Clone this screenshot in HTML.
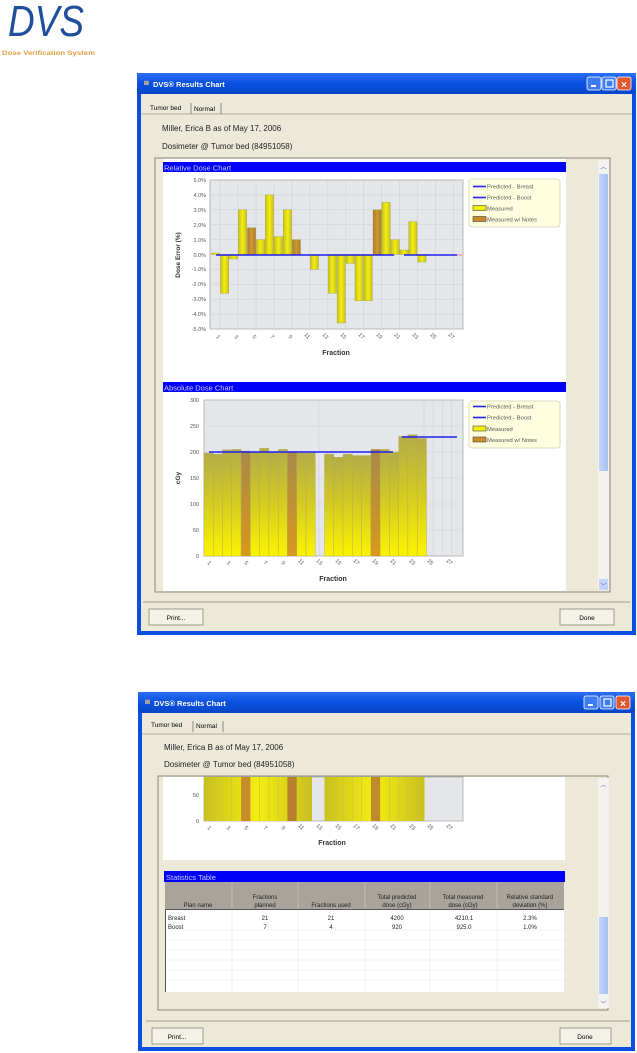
<!DOCTYPE html>
<html><head><meta charset="utf-8"><style>
html,body{margin:0;padding:0;background:#fff;}
svg{display:block;font-family:"Liberation Sans",sans-serif;}
</style></head><body>
<svg width="637" height="1053" viewBox="0 0 637 1053" xmlns="http://www.w3.org/2000/svg">
<defs>
<linearGradient id="ya" x1="0" y1="0" x2="0" y2="1"><stop offset="0" stop-color="#b4ac48"/><stop offset="0.5" stop-color="#d4cc20"/><stop offset="1" stop-color="#fcf400"/></linearGradient>
<linearGradient id="ba" x1="0" y1="0" x2="0" y2="1"><stop offset="0" stop-color="#a88a48"/><stop offset="1" stop-color="#d8981c"/></linearGradient>
<linearGradient id="yh" x1="0" y1="0" x2="1" y2="0"><stop offset="0" stop-color="#c8c020"/><stop offset="0.5" stop-color="#f4ee10"/><stop offset="1" stop-color="#c8c020"/></linearGradient>
<linearGradient id="bh" x1="0" y1="0" x2="1" y2="0"><stop offset="0" stop-color="#a87c30"/><stop offset="0.5" stop-color="#d09830"/><stop offset="1" stop-color="#a87c30"/></linearGradient>
<linearGradient id="tb" x1="0" y1="0" x2="0" y2="1"><stop offset="0" stop-color="#2a6ef0"/><stop offset="0.5" stop-color="#0a50e0"/><stop offset="1" stop-color="#0846c8"/></linearGradient>
<linearGradient id="sb" x1="0" y1="0" x2="1" y2="0"><stop offset="0" stop-color="#c4d4f8"/><stop offset="1" stop-color="#a8c0f0"/></linearGradient>
</defs>

<!-- Logo -->
<text x="8" y="36" font-size="44" fill="#1e4e9c" font-family="Liberation Sans" font-style="italic" textLength="76" lengthAdjust="spacingAndGlyphs">DVS</text>
<text x="2" y="55" font-size="6" fill="#e0a040" font-weight="bold" textLength="93" lengthAdjust="spacingAndGlyphs">Dose Verification System</text>

<!-- ============ WINDOW 1 ============ -->
<rect x="137" y="73" width="499" height="562" fill="#0a50e0"/>
<rect x="137" y="73" width="499" height="21" fill="url(#tb)"/>
<rect x="141" y="94" width="491" height="537" fill="#ece9d8"/>
<text x="144" y="87" font-size="7" fill="#a0a0a0">▀</text>
<text x="153" y="87" font-size="7.5" font-weight="bold" fill="#fff">DVS® Results Chart</text>
<rect x="587" y="77" width="14" height="13" rx="2" fill="#3c7cf0" stroke="#fff" stroke-width="0.8"/>
<rect x="602" y="77" width="14" height="13" rx="2" fill="#3c7cf0" stroke="#fff" stroke-width="0.8"/>
<rect x="617" y="77" width="14" height="13" rx="2" fill="#e05830" stroke="#fff" stroke-width="0.8"/>
<text x="624" y="88" font-size="10" fill="#fff" text-anchor="middle" font-weight="bold">×</text>
<rect x="591" y="85" width="5" height="2" fill="#fff"/>
<rect x="606" y="80" width="7" height="7" fill="none" stroke="#fff" stroke-width="1.2"/>
<!-- tabs -->
<line x1="141" y1="114" x2="632" y2="114" stroke="#b0ad98"/>
<text x="150" y="110" font-size="6.5" fill="#000">Tumor bed</text>
<line x1="191" y1="103" x2="191" y2="114" stroke="#888"/>
<text x="194" y="111" font-size="6.5" fill="#000">Normal</text>
<line x1="221" y1="103" x2="221" y2="114" stroke="#888"/>
<text x="162" y="131" font-size="8" fill="#222">Miller, Erica B as of May 17, 2006</text>
<text x="162" y="149" font-size="8" fill="#222">Dosimeter @ Tumor bed (84951058)</text>
<!-- panel -->
<rect x="155" y="158" width="455" height="434" fill="#ece9d8" stroke="#8a8878"/>
<rect x="163" y="159" width="403" height="432" fill="#fff"/>
<rect x="598" y="160" width="11" height="431" fill="#f2f2ee"/>
<rect x="599" y="174" width="9" height="297" fill="url(#sb)"/>
<text x="603.5" y="169" font-size="6" fill="#4060a0" text-anchor="middle">︿</text>
<rect x="599" y="579" width="9" height="11" fill="#c4d4f8"/>
<text x="603.5" y="588" font-size="6" fill="#4060a0" text-anchor="middle">﹀</text>

<!-- Relative chart -->
<rect x="163" y="162" width="403" height="10" fill="#0000f8"/>
<text x="164" y="170.5" font-size="7.5" fill="#c8d0ff">Relative Dose Chart</text>
<rect x="210" y="180" width="253" height="149" fill="#e4e6ea" stroke="#b8b8b8"/>
<g stroke="#d0d2d8" stroke-width="0.6">
<line x1="210" y1="194.9" x2="463" y2="194.9"/><line x1="210" y1="209.8" x2="463" y2="209.8"/><line x1="210" y1="224.7" x2="463" y2="224.7"/><line x1="210" y1="239.6" x2="463" y2="239.6"/><line x1="210" y1="269.4" x2="463" y2="269.4"/><line x1="210" y1="284.3" x2="463" y2="284.3"/><line x1="210" y1="299.2" x2="463" y2="299.2"/><line x1="210" y1="314.1" x2="463" y2="314.1"/>
<line x1="220.2" y1="180" x2="220.2" y2="329"/><line x1="238.1" y1="180" x2="238.1" y2="329"/><line x1="256.1" y1="180" x2="256.1" y2="329"/><line x1="274" y1="180" x2="274" y2="329"/><line x1="292" y1="180" x2="292" y2="329"/><line x1="309.9" y1="180" x2="309.9" y2="329"/><line x1="327.8" y1="180" x2="327.8" y2="329"/><line x1="345.8" y1="180" x2="345.8" y2="329"/><line x1="363.7" y1="180" x2="363.7" y2="329"/><line x1="381.6" y1="180" x2="381.6" y2="329"/><line x1="399.6" y1="180" x2="399.6" y2="329"/><line x1="417.5" y1="180" x2="417.5" y2="329"/><line x1="435.5" y1="180" x2="435.5" y2="329"/><line x1="453.4" y1="180" x2="453.4" y2="329"/>
</g>
<g stroke="#a0a040" stroke-width="0.4">
<rect x="211.5" y="253" width="8.3" height="1.5" fill="url(#yh)"/>
<rect x="220.5" y="254.5" width="8.3" height="38.7" fill="url(#yh)"/>
<rect x="229.4" y="254.5" width="8.3" height="4.5" fill="url(#yh)"/>
<rect x="238.4" y="209.8" width="8.3" height="44.7" fill="url(#yh)"/>
<rect x="247.4" y="227.7" width="8.3" height="26.8" fill="url(#bh)"/>
<rect x="256.4" y="239.6" width="8.3" height="14.9" fill="url(#yh)"/>
<rect x="265.3" y="194.9" width="8.3" height="59.6" fill="url(#yh)"/>
<rect x="274.3" y="236.6" width="8.3" height="17.9" fill="url(#yh)"/>
<rect x="283.3" y="209.8" width="8.3" height="44.7" fill="url(#yh)"/>
<rect x="292.2" y="239.6" width="8.3" height="14.9" fill="url(#bh)"/>
<rect x="310.2" y="254.5" width="8.3" height="14.9" fill="url(#yh)"/>
<rect x="328.1" y="254.5" width="8.3" height="38.7" fill="url(#yh)"/>
<rect x="337.1" y="254.5" width="8.3" height="68.5" fill="url(#yh)"/>
<rect x="346.1" y="254.5" width="8.3" height="8.9" fill="url(#yh)"/>
<rect x="355" y="254.5" width="8.3" height="46.2" fill="url(#yh)"/>
<rect x="364" y="254.5" width="8.3" height="46.2" fill="url(#yh)"/>
<rect x="373" y="209.8" width="8.3" height="44.7" fill="url(#bh)"/>
<rect x="381.9" y="202.4" width="8.3" height="52.1" fill="url(#yh)"/>
<rect x="390.9" y="239.6" width="8.3" height="14.9" fill="url(#yh)"/>
<rect x="399.9" y="250" width="8.3" height="4.5" fill="url(#yh)"/>
<rect x="408.8" y="221.7" width="8.3" height="32.8" fill="url(#yh)"/>
<rect x="417.8" y="254.5" width="8.3" height="7.5" fill="url(#yh)"/>
</g>
<line x1="216" y1="255" x2="394" y2="255" stroke="#2020f0" stroke-width="1.5"/>
<line x1="404" y1="255" x2="457" y2="255" stroke="#2020f0" stroke-width="1.5"/>
<line x1="457" y1="255" x2="462" y2="255" stroke="#f08080" stroke-width="1"/>
<g font-size="5.5" fill="#555" text-anchor="end">
<text x="206" y="182">5.0%</text><text x="206" y="197">4.0%</text><text x="206" y="212">3.0%</text><text x="206" y="227">2.0%</text><text x="206" y="242">1.0%</text><text x="206" y="257">0.0%</text><text x="206" y="271">-1.0%</text><text x="206" y="286">-2.0%</text><text x="206" y="301">-3.0%</text><text x="206" y="316">-4.0%</text><text x="206" y="331">-5.0%</text>
</g>
<g font-size="5.5" fill="#555">
<text transform="translate(216,337) rotate(45)">1</text><text transform="translate(234,337) rotate(45)">3</text><text transform="translate(252,337) rotate(45)">5</text><text transform="translate(270,337) rotate(45)">7</text><text transform="translate(288,337) rotate(45)">9</text><text transform="translate(304,335) rotate(45)">11</text><text transform="translate(322,335) rotate(45)">13</text><text transform="translate(340,335) rotate(45)">15</text><text transform="translate(358,335) rotate(45)">17</text><text transform="translate(376,335) rotate(45)">19</text><text transform="translate(394,335) rotate(45)">21</text><text transform="translate(412,335) rotate(45)">23</text><text transform="translate(430,335) rotate(45)">25</text><text transform="translate(448,335) rotate(45)">27</text>
</g>
<text x="336" y="355" font-size="7" font-weight="bold" fill="#333" text-anchor="middle">Fraction</text>
<text transform="translate(180,255) rotate(-90)" font-size="6.5" font-weight="bold" fill="#333" text-anchor="middle">Dose Error (%)</text>
<rect x="469" y="179" width="91" height="48" rx="3" fill="#ffffe0" stroke="#d8d8c0"/>
<g font-size="5.8" fill="#555">
<line x1="473" y1="186.5" x2="486" y2="186.5" stroke="#2020f0" stroke-width="1.6"/><text x="487" y="188.5">Predicted - Breast</text>
<line x1="473" y1="197.5" x2="486" y2="197.5" stroke="#2020f0" stroke-width="1.6"/><text x="487" y="199.5">Predicted - Boost</text>
<rect x="473" y="205.5" width="13" height="5" fill="#f4f000" stroke="#444" stroke-width="0.6"/><text x="487" y="210.5">Measured</text>
<rect x="473" y="216.5" width="13" height="5" fill="#c88c28" stroke="#444" stroke-width="0.6"/><text x="487" y="221.5">Measured w/ Notes</text>
</g>

<!-- Absolute chart -->
<rect x="163" y="382" width="403" height="10" fill="#0000f8"/>
<text x="164" y="390.5" font-size="7.5" fill="#c8d0ff">Absolute Dose Chart</text>
<rect x="204" y="400" width="259" height="156" fill="#e4e6ea" stroke="#b8b8b8"/>
<g stroke="#d0d2d8" stroke-width="0.6">
<line x1="204" y1="426" x2="463" y2="426"/><line x1="204" y1="452" x2="463" y2="452"/><line x1="204" y1="478" x2="463" y2="478"/><line x1="204" y1="504" x2="463" y2="504"/><line x1="204" y1="530" x2="463" y2="530"/>
<line x1="433" y1="400" x2="433" y2="556"/><line x1="442.3" y1="400" x2="442.3" y2="556"/><line x1="451.5" y1="400" x2="451.5" y2="556"/><line x1="424" y1="400" x2="424" y2="556"/><line x1="319" y1="400" x2="319" y2="556"/>
</g>
<g stroke="#b0a858" stroke-width="0.4">
<rect x="204" y="453" width="9.27" height="103" fill="url(#ya)"/>
<rect x="213.3" y="454.1" width="9.27" height="101.9" fill="url(#ya)"/>
<rect x="222.5" y="449.9" width="9.27" height="106.1" fill="url(#ya)"/>
<rect x="231.8" y="449.4" width="9.27" height="106.6" fill="url(#ya)"/>
<rect x="241.1" y="451" width="9.27" height="105" fill="url(#ba)"/>
<rect x="250.4" y="452" width="9.27" height="104" fill="url(#ya)"/>
<rect x="259.6" y="448.4" width="9.27" height="107.6" fill="url(#ya)"/>
<rect x="268.9" y="452" width="9.27" height="104" fill="url(#ya)"/>
<rect x="278.2" y="449.4" width="9.27" height="106.6" fill="url(#ya)"/>
<rect x="287.4" y="451.5" width="9.27" height="104.5" fill="url(#ba)"/>
<rect x="296.7" y="453" width="9.27" height="103" fill="url(#ya)"/>
<rect x="306" y="453" width="9.27" height="103" fill="url(#ya)"/>
<rect x="324.5" y="454.1" width="9.27" height="101.9" fill="url(#ya)"/>
<rect x="333.8" y="457.2" width="9.27" height="98.8" fill="url(#ya)"/>
<rect x="343" y="454.1" width="9.27" height="101.9" fill="url(#ya)"/>
<rect x="352.3" y="455.6" width="9.27" height="100.4" fill="url(#ya)"/>
<rect x="361.6" y="455.6" width="9.27" height="100.4" fill="url(#ya)"/>
<rect x="370.9" y="449.4" width="9.27" height="106.6" fill="url(#ba)"/>
<rect x="380.1" y="449.4" width="9.27" height="106.6" fill="url(#ya)"/>
<rect x="389.4" y="452" width="9.27" height="104" fill="url(#ya)"/>
<rect x="398.7" y="436.4" width="9.27" height="119.6" fill="url(#ya)"/>
<rect x="407.9" y="434.8" width="9.27" height="121.2" fill="url(#ya)"/>
<rect x="417.2" y="438.5" width="9.27" height="117.5" fill="url(#ya)"/>
</g>
<line x1="209" y1="452" x2="393" y2="452" stroke="#2020f0" stroke-width="1.5"/>
<line x1="402" y1="437" x2="457" y2="437" stroke="#2020f0" stroke-width="1.5"/>
<g font-size="5.5" fill="#555" text-anchor="end">
<text x="199" y="402">300</text><text x="199" y="428">250</text><text x="199" y="454">200</text><text x="199" y="480">150</text><text x="199" y="506">100</text><text x="199" y="532">50</text><text x="199" y="558">0</text>
</g>
<g font-size="5.5" fill="#555">
<text transform="translate(207,563) rotate(45)">1</text><text transform="translate(226,563) rotate(45)">3</text><text transform="translate(244,563) rotate(45)">5</text><text transform="translate(263,563) rotate(45)">7</text><text transform="translate(281,563) rotate(45)">9</text><text transform="translate(298,561) rotate(45)">11</text><text transform="translate(316,561) rotate(45)">13</text><text transform="translate(335,561) rotate(45)">15</text><text transform="translate(353,561) rotate(45)">17</text><text transform="translate(372,561) rotate(45)">19</text><text transform="translate(390,561) rotate(45)">21</text><text transform="translate(409,561) rotate(45)">23</text><text transform="translate(427,561) rotate(45)">25</text><text transform="translate(446,561) rotate(45)">27</text>
</g>
<text x="333" y="581" font-size="7" font-weight="bold" fill="#333" text-anchor="middle">Fraction</text>
<text transform="translate(180,478) rotate(-90)" font-size="6.5" font-weight="bold" fill="#333" text-anchor="middle">cGy</text>
<rect x="469" y="401" width="91" height="47" rx="3" fill="#ffffe0" stroke="#d8d8c0"/>
<g font-size="5.8" fill="#555">
<line x1="473" y1="406.5" x2="486" y2="406.5" stroke="#2020f0" stroke-width="1.6"/><text x="487" y="408.5">Predicted - Breast</text>
<line x1="473" y1="417.5" x2="486" y2="417.5" stroke="#2020f0" stroke-width="1.6"/><text x="487" y="419.5">Predicted - Boost</text>
<rect x="473" y="426" width="13" height="5" fill="#f4f000" stroke="#444" stroke-width="0.6"/><text x="487" y="431">Measured</text>
<rect x="473" y="437" width="13" height="5" fill="#c88c28" stroke="#444" stroke-width="0.6"/><text x="487" y="442">Measured w/ Notes</text>
</g>
<!-- footer -->
<line x1="143" y1="602" x2="630" y2="602" stroke="#b0ad98" stroke-width="1.2"/>
<rect x="149" y="609" width="54" height="16" fill="#f4f2e8" stroke="#8a8878" stroke-width="0.8"/>
<text x="176" y="620" font-size="6.5" text-anchor="middle" fill="#000">Print...</text>
<rect x="560" y="609" width="54" height="16" fill="#f4f2e8" stroke="#8a8878" stroke-width="0.8"/>
<text x="587" y="620" font-size="6.5" text-anchor="middle" fill="#000">Done</text>

<!-- ============ WINDOW 2 ============ -->
<rect x="138" y="692" width="497" height="359" fill="#0a50e0"/>
<rect x="138" y="692" width="497" height="21" fill="url(#tb)"/>
<rect x="142" y="713" width="489" height="334" fill="#ece9d8"/>
<text x="145" y="706" font-size="7" fill="#a0a0a0">▀</text>
<text x="154" y="706" font-size="7.5" font-weight="bold" fill="#fff">DVS® Results Chart</text>
<rect x="584" y="696" width="14" height="13" rx="2" fill="#3c7cf0" stroke="#fff" stroke-width="0.8"/>
<rect x="600" y="696" width="14" height="13" rx="2" fill="#3c7cf0" stroke="#fff" stroke-width="0.8"/>
<rect x="616" y="696" width="14" height="13" rx="2" fill="#e05830" stroke="#fff" stroke-width="0.8"/>
<text x="623" y="707" font-size="10" fill="#fff" text-anchor="middle" font-weight="bold">×</text>
<rect x="588" y="704" width="5" height="2" fill="#fff"/>
<rect x="604" y="699" width="7" height="7" fill="none" stroke="#fff" stroke-width="1.2"/>
<line x1="142" y1="734" x2="631" y2="734" stroke="#b0ad98"/>
<text x="151" y="727" font-size="6.5" fill="#000">Tumor bed</text>
<line x1="193" y1="721" x2="193" y2="732" stroke="#888"/>
<text x="196" y="728" font-size="6.5" fill="#000">Normal</text>
<line x1="223" y1="721" x2="223" y2="732" stroke="#888"/>
<text x="164" y="750" font-size="8" fill="#222">Miller, Erica B as of May 17, 2006</text>
<text x="164" y="767" font-size="8" fill="#222">Dosimeter @ Tumor bed (84951058)</text>
<rect x="158" y="776" width="450" height="234" fill="#ece9d8" stroke="#8a8878"/>
<rect x="163" y="777" width="402" height="83" fill="#fff"/>
<rect x="598" y="778" width="11" height="230" fill="#f2f2ee"/>
<rect x="599" y="917" width="9" height="77" fill="url(#sb)"/>
<text x="603.5" y="787" font-size="6" fill="#4060a0" text-anchor="middle">︿</text>
<text x="603.5" y="1006" font-size="6" fill="#4060a0" text-anchor="middle">﹀</text>
<rect x="204" y="777" width="259" height="44" fill="#e4e6ea" stroke="#b8b8b8"/>
<g>
<rect x="204" y="777" width="108" height="44" fill="url(#yh)"/>
<rect x="241.1" y="777" width="9.27" height="44" fill="#c88c28"/>
<rect x="287.4" y="777" width="9.27" height="44" fill="#b8802c"/>
<rect x="324.5" y="777" width="100" height="44" fill="url(#yh)"/>
<rect x="370.9" y="777" width="9.27" height="44" fill="#c08a28"/>
</g>
<g stroke="#c8c040" stroke-width="0.6">
<line x1="213.3" y1="777" x2="213.3" y2="821"/><line x1="222.5" y1="777" x2="222.5" y2="821"/><line x1="231.8" y1="777" x2="231.8" y2="821"/><line x1="259.6" y1="777" x2="259.6" y2="821"/><line x1="268.9" y1="777" x2="268.9" y2="821"/><line x1="278.2" y1="777" x2="278.2" y2="821"/><line x1="306" y1="777" x2="306" y2="821"/><line x1="333.8" y1="777" x2="333.8" y2="821"/><line x1="343" y1="777" x2="343" y2="821"/><line x1="352.3" y1="777" x2="352.3" y2="821"/><line x1="361.6" y1="777" x2="361.6" y2="821"/><line x1="389.4" y1="777" x2="389.4" y2="821"/><line x1="398.7" y1="777" x2="398.7" y2="821"/><line x1="407.9" y1="777" x2="407.9" y2="821"/><line x1="417.2" y1="777" x2="417.2" y2="821"/>
</g>
<g font-size="5.5" fill="#555" text-anchor="end"><text x="199" y="797">50</text><text x="199" y="823">0</text></g>
<g font-size="5.5" fill="#555">
<text transform="translate(207,828) rotate(45)">1</text><text transform="translate(226,828) rotate(45)">3</text><text transform="translate(244,828) rotate(45)">5</text><text transform="translate(263,828) rotate(45)">7</text><text transform="translate(281,828) rotate(45)">9</text><text transform="translate(298,826) rotate(45)">11</text><text transform="translate(316,826) rotate(45)">13</text><text transform="translate(335,826) rotate(45)">15</text><text transform="translate(353,826) rotate(45)">17</text><text transform="translate(372,826) rotate(45)">19</text><text transform="translate(390,826) rotate(45)">21</text><text transform="translate(409,826) rotate(45)">23</text><text transform="translate(427,826) rotate(45)">25</text><text transform="translate(446,826) rotate(45)">27</text>
</g>
<text x="332" y="845" font-size="7" font-weight="bold" fill="#333" text-anchor="middle">Fraction</text>
<!-- statistics table -->
<rect x="164" y="871" width="401" height="11" fill="#0000f8"/>
<text x="166" y="880" font-size="7.5" fill="#c8d0ff">Statistics Table</text>
<rect x="165" y="882" width="399" height="110" fill="#fff"/>
<rect x="165" y="882" width="399" height="27" fill="#a8a49c"/>
<g stroke="#e8e8e0" stroke-width="0.6">
<line x1="165" y1="930" x2="564" y2="930"/><line x1="165" y1="940" x2="564" y2="940"/><line x1="165" y1="950" x2="564" y2="950"/><line x1="165" y1="960" x2="564" y2="960"/><line x1="165" y1="970" x2="564" y2="970"/><line x1="165" y1="980" x2="564" y2="980"/>
<line x1="232" y1="909" x2="232" y2="992"/><line x1="298" y1="909" x2="298" y2="992"/><line x1="365" y1="909" x2="365" y2="992"/><line x1="430" y1="909" x2="430" y2="992"/><line x1="497" y1="909" x2="497" y2="992"/>
</g>
<g stroke="#c8c4bc" stroke-width="0.8"><line x1="232" y1="882" x2="232" y2="909"/><line x1="298" y1="882" x2="298" y2="909"/><line x1="365" y1="882" x2="365" y2="909"/><line x1="430" y1="882" x2="430" y2="909"/><line x1="497" y1="882" x2="497" y2="909"/></g>
<line x1="165.5" y1="909" x2="165.5" y2="992" stroke="#555"/>
<line x1="165" y1="909.5" x2="564" y2="909.5" stroke="#555"/>
<g font-size="6" fill="#222" text-anchor="middle">
<text x="198" y="907">Plan name</text>
<text x="265" y="899">Fractions</text><text x="265" y="907">planned</text>
<text x="331" y="907">Fractions used</text>
<text x="397" y="899">Total predicted</text><text x="397" y="907">dose (cGy)</text>
<text x="463" y="899">Total measured</text><text x="463" y="907">dose (cGy)</text>
<text x="530" y="899">Relative standard</text><text x="530" y="907">deviation (%)</text>
</g>
<g font-size="6" fill="#222">
<text x="168" y="920">Breast</text><text x="168" y="929">Boost</text>
</g>
<g font-size="6" fill="#222" text-anchor="middle">
<text x="265" y="920">21</text><text x="331" y="920">21</text><text x="397" y="920">4200</text><text x="464" y="920">4210.1</text><text x="530" y="920">2.3%</text>
<text x="265" y="929">7</text><text x="331" y="929">4</text><text x="397" y="929">920</text><text x="464" y="929">925.0</text><text x="530" y="929">1.0%</text>
</g>
<line x1="146" y1="1021" x2="630" y2="1021" stroke="#b0ad98" stroke-width="1.2"/>
<rect x="152" y="1028" width="51" height="16" fill="#f4f2e8" stroke="#8a8878" stroke-width="0.8"/>
<text x="177" y="1039" font-size="6.5" text-anchor="middle" fill="#000">Print...</text>
<rect x="560" y="1028" width="51" height="16" fill="#f4f2e8" stroke="#8a8878" stroke-width="0.8"/>
<text x="585" y="1039" font-size="6.5" text-anchor="middle" fill="#000">Done</text>
</svg>
</body></html>
